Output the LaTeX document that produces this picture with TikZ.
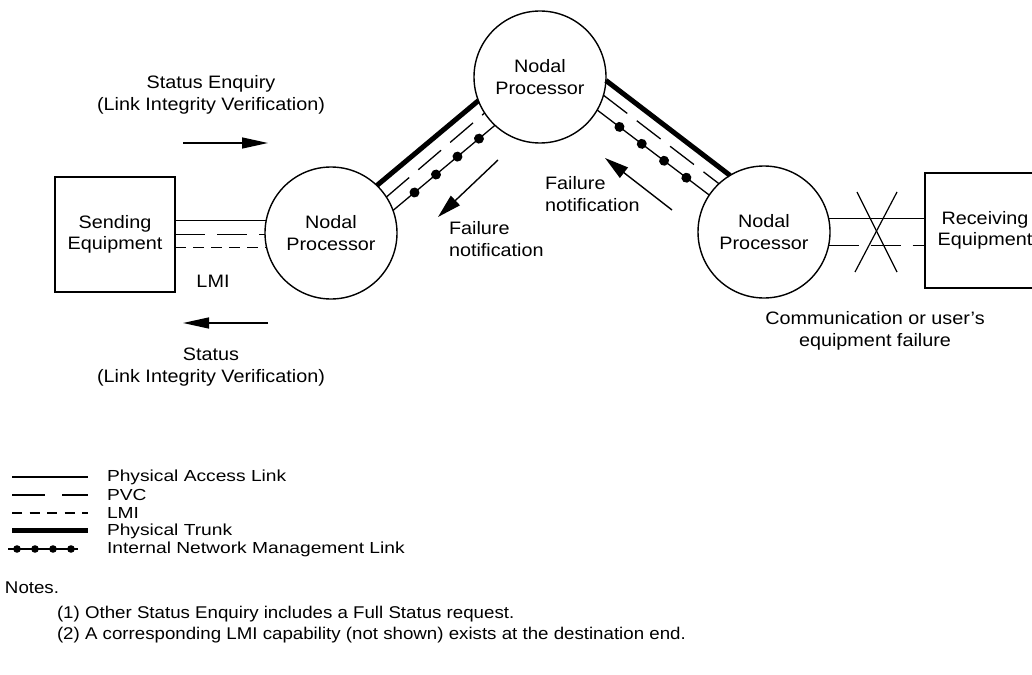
\documentclass[tikz,border=0pt]{standalone}
\usepackage{fontspec}
\setmainfont{Liberation Sans}[FakeStretch=1.1]
\newfontfamily\legfont{Liberation Sans}[FakeStretch=1.2]
\usetikzlibrary{arrows.meta,decorations.markings,calc}
\begin{document}
\begin{tikzpicture}[x=1pt,y=-1pt,
  every node/.style={font=\fontsize{18}{21.5}\selectfont, inner sep=0pt, outer sep=0pt},
  np/.style={circle, draw, line width=1.4pt, minimum size=132pt, align=center},
  eq/.style={rectangle, draw, line width=1.4pt, minimum width=120pt, minimum height=115pt, align=center},
  access/.style={line width=1.3pt},
  pvc/.style={line width=1.3pt, dash pattern=on 30pt off 12pt},
  lmi/.style={line width=1.3pt, dash pattern=on 11pt off 7pt},
  trunk/.style={line width=5pt},
  mgmt/.style={line width=1.3pt, postaction={decorate}, decoration={markings, mark=between positions 28pt and 115pt step 28pt with {\fill (0,0) circle (5pt);}}},
  mgmtleg/.style={line width=1.6pt, postaction={decorate}, decoration={markings, mark=between positions 9pt and 65pt step 18pt with {\fill (0,0) circle (3.8pt);}}},
  msg/.style={line width=1.4pt, -{Triangle[length=26pt,width=11pt]}},
  fail/.style={line width=1.4pt, -{Triangle[length=24pt,width=13pt]}},
  lbl/.style={align=center},
  legtxt/.style={anchor=west, font=\legfont\fontsize{16}{18}\selectfont},
  notetxt/.style={anchor=west, font=\fontsize{17}{20}\selectfont},
]
\clip (0,0) rectangle (1032,674);
\fill[white] (0,0) rectangle (1032,674);

% equipment and processors
\node[eq] (SE) at (115,234.5) {Sending\\Equipment};
\node[eq] (RE) at (985,230.5) {Receiving\\Equipment};
\node[np] (L) at (331,233) {Nodal\\Processor};
\node[np] (T) at (540,77) {Nodal\\Processor};
\node[np] (R) at (764,232) {Nodal\\Processor};

% access links, left
\draw[access] (L.169) -- (L.169 -| SE.east);
\draw[pvc] (L.181 -| SE.east) -- (L.181);
\draw[lmi] (L.193 -| SE.east) -- (L.193);
% access links, right
\draw[access] (R.12) -- (R.12 -| RE.west);
\draw[pvc] (R.348) -- (R.348 -| RE.west);

% trunks, left
\draw[trunk] (L.46) -- (T.201);
\draw[pvc] (L.33) -- (T.213);
\draw[mgmt] (L.20) -- (T.227);
% trunks, right
\draw[trunk] (T.357) -- (R.121);
\draw[pvc] (T.344) -- (R.133);
\draw[mgmt] (T.330) -- (R.146);

% failure cross
\coordinate (x1) at (857,192);
\coordinate (x2) at (897,272);
\coordinate (x3) at (897,192);
\coordinate (x4) at (855,272);
\draw[line width=1.2pt] (x1) -- (x2);
\draw[line width=1.2pt] (x3) -- (x4);

% messages
\node[lbl] (se) at (211,95) {Status Enquiry\\(Link Integrity Verification)};
\coordinate (se1) at (183,143);
\coordinate (se2) at (268,143);
\draw[msg] (se1) -- (se2);
\node (lmi) at (213,281) {LMI};
\coordinate (st1) at (268,323);
\coordinate (st2) at (183,323);
\draw[msg] (st1) -- (st2);
\node[lbl] (st) at (211,367) {Status\\(Link Integrity Verification)};

% failure notifications
\coordinate (f1a) at (498,160);
\coordinate (f1b) at (438,217);
\draw[fail] (f1a) -- (f1b);
\node[align=left, anchor=west] (fn1) at (449,239) {Failure\\notification};
\coordinate (f2a) at (672,210);
\coordinate (f2b) at (605,158);
\draw[fail] (f2a) -- (f2b);
\node[align=left, anchor=west] (fn2) at (545,194) {Failure\\notification};

\node[lbl] (cf) at (875,331) {Communication or user's\\equipment failure};

% legend
\draw[access] (12,477) -- (88,477);
\node[legtxt] (l1) at (107,477) {Physical Access Link};
\draw[line width=1.3pt, dash pattern=on 33pt off 17pt] (12,495) -- (88,495);
\node[legtxt] (l2) at (107,495) {PVC};
\draw[line width=1.3pt, dash pattern=on 10pt off 7.5pt] (12,513) -- (88,513);
\node[legtxt] (l3) at (107,513) {LMI};
\draw[trunk] (12,530) -- (88,530);
\node[legtxt] (l4) at (107,531) {Physical Trunk};
\draw[mgmtleg] (8,549) -- (78,549);
\node[legtxt] (l5) at (107,549) {Internal Network Management Link};

% notes
\node[notetxt] (n0) at (5,588) {Notes.};
\node[notetxt] (n1) at (57,614) {(1) Other Status Enquiry includes a Full Status request.};
\node[notetxt] (n2) at (57,635) {(2) A corresponding LMI capability (not shown) exists at the destination end.};
\end{tikzpicture}
\end{document}
